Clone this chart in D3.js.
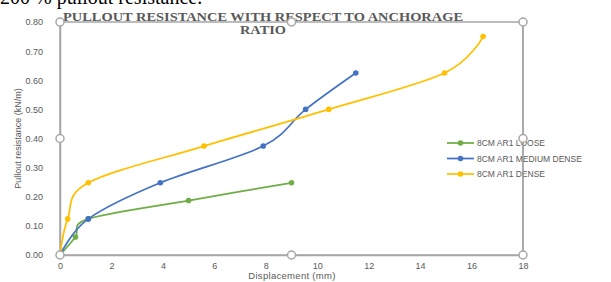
<!DOCTYPE html>
<html><head><meta charset="utf-8">
<script src="https://cdn.jsdelivr.net/npm/d3@7"></script>
<style>body{margin:0;background:#fff}svg{display:block}</style>
</head><body>
<svg id="c" width="611" height="282"></svg>
<script>
const seriesNames = ["8CM AR1 LOOSE", "8CM AR1 MEDIUM DENSE", "8CM AR1 DENSE"];
const seriesColors = ["#70ad47", "#4472c4", "#ffc000"];
const looseX = [0, 0.6, 1.1, 5.0, 9.0];
const looseY = [0, 0.062, 0.124, 0.187, 0.248];
const mediumX = [0, 1.1, 3.9, 7.9, 9.55, 11.5];
const mediumY = [0, 0.124, 0.248, 0.374, 0.5, 0.625];
const denseX = [0, 0.3, 1.1, 5.6, 10.45, 14.95, 16.45];
const denseY = [0, 0.124, 0.248, 0.374, 0.5, 0.625, 0.75];
const xTicks = [0, 2, 4, 6, 8, 10, 12, 14, 16, 18];
const yTicks = [0, 0.1, 0.2, 0.3, 0.4, 0.5, 0.6, 0.7, 0.8];

const svg = d3.select("#c");
const L = 60, R = 523, T = 22, B = 255;
const x = d3.scaleLinear().domain([0, 18]).range([L, R]);
const y = d3.scaleLinear().domain([0, 0.8]).range([B, T]);
const grey = "#595959", frame = "#a6a6a6";

// document text above (cut off at the top as in the reference)
svg.append("text").attr("x", 0).attr("y", 4).attr("font-family", "Liberation Serif")
  .attr("font-size", 20).attr("fill", "#000").text("200 % pullout resistance.");

// frame
svg.append("rect").attr("x", L).attr("y", T).attr("width", R - L).attr("height", B - T)
  .attr("fill", "none").attr("stroke", frame).attr("stroke-width", 1.5);

// axes
const xAxis = d3.axisBottom(x).tickValues(xTicks).tickSize(0).tickPadding(8).tickFormat(d3.format("d"));
const gx = svg.append("g").attr("transform", `translate(0,${B})`).call(xAxis);
gx.select(".domain").attr("stroke", frame).attr("stroke-width", 1.5);
gx.selectAll("text").attr("font-family", "Liberation Sans").attr("font-size", 9).attr("fill", grey);

const yAxis = d3.axisLeft(y).tickValues(yTicks).tickSize(0).tickPadding(17).tickFormat(d3.format(".2f"));
const gy = svg.append("g").attr("transform", `translate(${L},0)`).call(yAxis);
gy.select(".domain").attr("stroke", frame).attr("stroke-width", 1.5);
gy.selectAll("text").attr("font-family", "Liberation Sans").attr("font-size", 9).attr("fill", grey);

// axis titles
svg.append("text").attr("transform", `translate(21,${(T + B) / 2}) rotate(-90)`)
  .attr("text-anchor", "middle").attr("font-family", "Liberation Sans Narrow, Liberation Sans")
  .attr("font-size", 9).attr("fill", grey).text("Pullout resistance (kN/m)");
svg.append("text").attr("x", 292).attr("y", 279).attr("text-anchor", "middle")
  .attr("font-family", "Liberation Sans").attr("font-size", 9.5).attr("fill", grey)
  .attr("letter-spacing", 0.3).text("Displacement (mm)");

// series
const series = [
  { name: seriesNames[0], color: seriesColors[0], xs: looseX, ys: looseY },
  { name: seriesNames[1], color: seriesColors[1], xs: mediumX, ys: mediumY },
  { name: seriesNames[2], color: seriesColors[2], xs: denseX, ys: denseY }
];
const line = d3.line().x(d => x(d[0])).y(d => y(d[1])).curve(d3.curveCardinal.tension(0));
series.forEach(s => {
  const pts = s.xs.map((v, i) => [v, s.ys[i]]);
  svg.append("path").datum(pts).attr("d", line).attr("fill", "none")
    .attr("stroke", s.color).attr("stroke-width", 1.75);
  svg.selectAll(null).data(pts.slice(1)).enter().append("circle")
    .attr("cx", d => x(d[0])).attr("cy", d => y(d[1])).attr("r", 2.8).attr("fill", s.color);
});

// legend
series.forEach((s, i) => {
  const ly = 143 + i * 15.5;
  svg.append("line").attr("x1", 447).attr("x2", 474).attr("y1", ly).attr("y2", ly)
    .attr("stroke", s.color).attr("stroke-width", 1.75);
  svg.append("circle").attr("cx", 460.5).attr("cy", ly).attr("r", 2.8).attr("fill", s.color);
  svg.append("text").attr("x", 477).attr("y", ly + 3.3).attr("font-family", "Liberation Sans")
    .attr("font-size", 8.5).attr("fill", grey).text(s.name);
});

// right frame line over legend
svg.append("line").attr("x1", R).attr("x2", R).attr("y1", T).attr("y2", B)
  .attr("stroke", frame).attr("stroke-width", 1.5);

// title
svg.append("text").attr("x", 263).attr("y", 21).attr("text-anchor", "middle")
  .attr("font-family", "Liberation Serif").attr("font-weight", "bold").attr("font-size", 12.5)
  .attr("textLength", 400).attr("lengthAdjust", "spacingAndGlyphs")
  .attr("fill", grey).text("PULLOUT RESISTANCE WITH RESPECT TO ANCHORAGE");
svg.append("text").attr("x", 263).attr("y", 33.5).attr("text-anchor", "middle")
  .attr("font-family", "Liberation Serif").attr("font-weight", "bold").attr("font-size", 12.5)
  .attr("textLength", 46).attr("lengthAdjust", "spacingAndGlyphs")
  .attr("fill", grey).text("RATIO");

// selection handles
const handles = [[L, T], [(L + R) / 2, T], [R, T], [L, (T + B) / 2], [R, (T + B) / 2], [L, B], [(L + R) / 2, B], [R, B]];
svg.selectAll(null).data(handles).enter().append("circle")
  .attr("cx", d => d[0]).attr("cy", d => d[1]).attr("r", 4)
  .attr("fill", "#fff").attr("stroke", frame).attr("stroke-width", 1.5);
</script>
</body></html>
